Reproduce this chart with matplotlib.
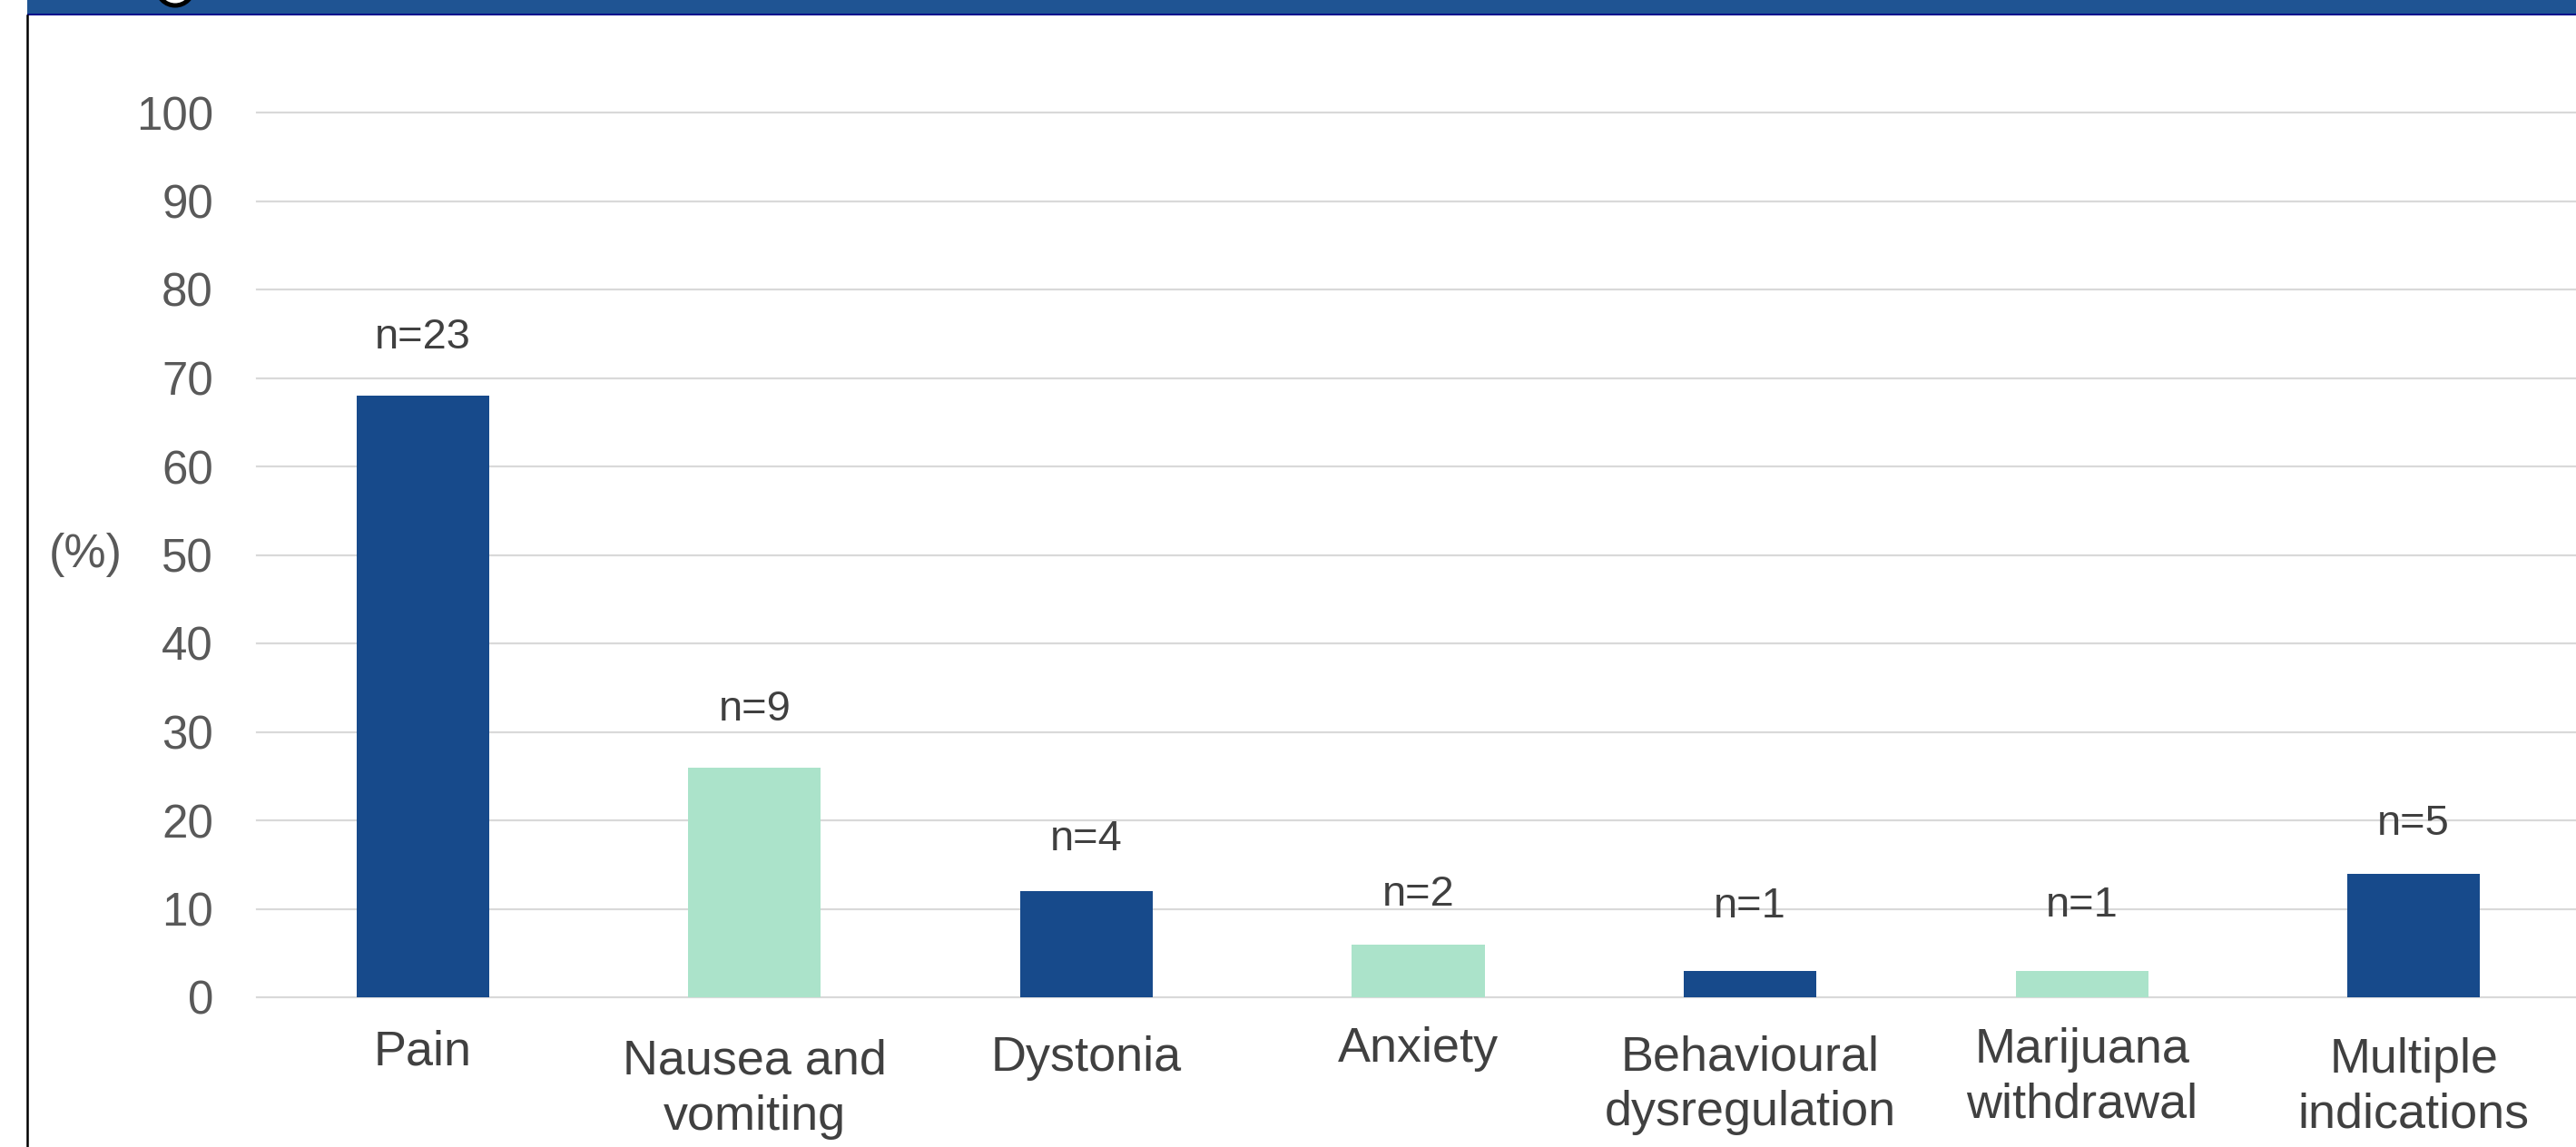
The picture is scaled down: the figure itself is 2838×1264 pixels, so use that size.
import matplotlib
matplotlib.use("Agg")
import matplotlib.pyplot as plt
from matplotlib.patches import Rectangle, Ellipse
from matplotlib.lines import Line2D

# ---- data ----
categories = ["Pain", "Nausea and\nvomiting", "Dystonia", "Anxiety",
              "Behavioural\ndysregulation", "Marijuana\nwithdrawal", "Multiple\nindications"]
percent = [68, 26, 12, 6, 3, 3, 14]
n_counts = [23, 9, 4, 2, 1, 1, 5]
y_ticks = [0, 10, 20, 30, 40, 50, 60, 70, 80, 90, 100]

# ---- layout / style ----
W, H, DPI = 2838, 1264, 100
dark = "#174A8B"
light = "#ABE3CA"
bar_colors = [dark, light, dark, light, dark, light, dark]
# vertical gap (pixels) between bar top and n= label baseline, as placed in the original
n_gap_px = [52, 52, 45, 42, 59, 60, 43]
# gap (pixels) between zero line and top of each category label
cat_gap_px = [35, 46, 42, 32, 41, 33, 44]

def pt(px):
    return px * 72.0 / DPI

plt.rcParams["font.family"] = ["Liberation Sans", "DejaVu Sans"]

fig = plt.figure(figsize=(W / DPI, H / DPI), dpi=DPI)
fig.patch.set_facecolor("white")

# axes: x from 283px to 2842px, y zero at 1099px, 100 at 124px
ax = fig.add_axes([283 / W, (H - 1099) / H, (2842 - 283) / W, (1099 - 124) / H])
ax.set_xlim(-0.5, 6.5)
ax.set_ylim(0, 100)

x = range(len(categories))
ax.bar(x, percent, width=0.4, color=bar_colors, zorder=3)

ax.set_axisbelow(True)
ax.yaxis.grid(True, color="#D9D9D9", linewidth=pt(2.2))
for gl in ax.get_ygridlines():
    gl.set_clip_on(False)
for s in ax.spines.values():
    s.set_visible(False)

ax.set_yticks(y_ticks)
ax.set_yticklabels([str(v) for v in y_ticks])
ax.tick_params(axis="y", length=0, pad=pt(48), labelsize=pt(51), labelcolor="#595959")
ax.set_xticks([])

# category labels
for i, lab in enumerate(categories):
    ax.annotate(lab, xy=(i, 0), xycoords="data",
                xytext=(0, -pt(cat_gap_px[i])), textcoords="offset points",
                ha="center", va="top", multialignment="center",
                fontsize=pt(54), color="#404040", linespacing=1.28,
                annotation_clip=False)

# n= labels above the bars
for i, (v, n) in enumerate(zip(percent, n_counts)):
    ax.annotate(f"n={n}", xy=(i, v), xycoords="data",
                xytext=(0, pt(n_gap_px[i])), textcoords="offset points",
                ha="center", va="baseline", fontsize=pt(47), color="#404040")

# (%) axis label
ax.annotate("(%)", xy=(0, 50), xycoords=("axes fraction", "data"),
            xytext=(-pt(283 - 135), 0), textcoords="offset points",
            ha="right", va="center", fontsize=pt(52), color="#595959",
            annotation_clip=False)

# ---- frame pieces from the slide ----
# blue banner at the top
fig.add_artist(Rectangle((30 / W, 1 - 15 / H), 1, 15 / H,
                         transform=fig.transFigure, facecolor="#1F5493",
                         edgecolor="none"))
fig.add_artist(Rectangle((30 / W, 1 - 17 / H), 1, 2.5 / H,
                         transform=fig.transFigure, facecolor="#00088C",
                         edgecolor="none"))
# cut-off round badge in the banner
fig.add_artist(Ellipse((193 / W, 1 + 14 / H), 40 / W, 40 / H, transform=fig.transFigure,
                       facecolor="white", edgecolor="black", linewidth=pt(5)))
# left black border
fig.add_artist(Line2D([30 / W, 30 / W], [0, 1 - 17 / H], transform=fig.transFigure,
                      color="black", linewidth=pt(2.5)))

fig.savefig("out.png", dpi=DPI, facecolor="white")
